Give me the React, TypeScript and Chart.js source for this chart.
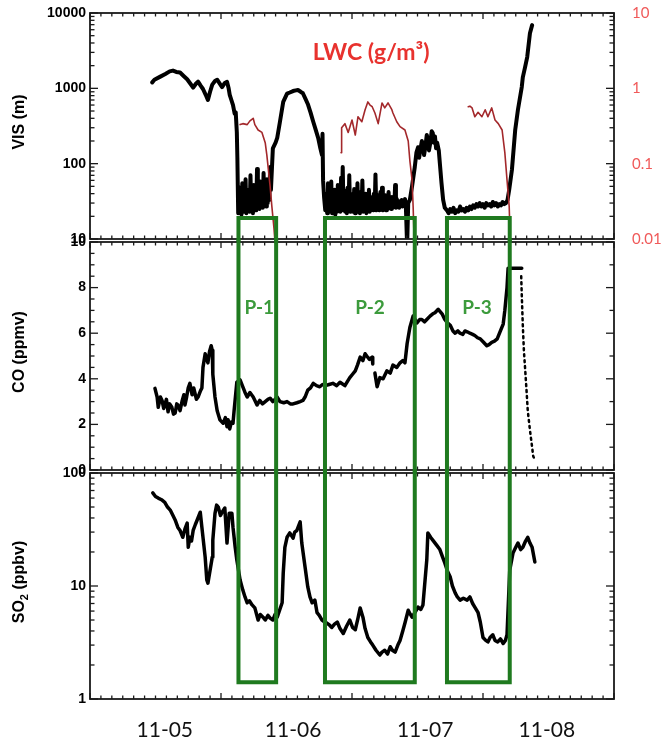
import React, { useEffect, useRef } from 'react';
import { Chart, registerables } from 'chart.js';

Chart.register(...registerables);

// ---------------- data (x = hours since 11-05 00:00) ----------------
const visHours = [
  11.4, 11.8, 12.8, 13.8, 14.6, 15.2, 15.8, 16.5, 17.2, 17.8, 18.4, 18.9, 19.4, 19.8, 20.3, 20.7, 21.2, 21.6, 22.0, 22.4,
  22.9, 23.3, 23.8, 24.2, 24.7, 25.1, 25.4, 25.6, 25.9, 26.2, 26.5, 26.7, 26.9, 27.0,
  27.15, 27.30, 27.45, 27.60, 27.75, 27.90, 28.05, 28.20, 28.35, 28.50, 28.65, 28.80, 28.95, 29.10, 29.25, 29.40, 29.55,
  29.70, 29.85, 30.00, 30.15, 30.30, 30.45, 30.60, 30.75, 30.90, 31.05, 31.20, 31.35, 31.50, 31.65, 31.80, 31.95, 32.10,
  32.25, 32.40, 32.55, 32.70, 32.85, 33.00, 33.15,
  33.5, 34.0, 34.3, 34.8, 35.4, 36.1, 36.6, 37.2, 37.7, 38.1, 38.6, 39.0, 39.5, 39.9, 40.4, 40.9, 41.3, 41.8, 42.2, 42.5,
  42.6, 42.7, 42.9, 43.1,
  43.30, 43.45, 43.60, 43.75, 43.90, 44.05, 44.20, 44.35, 44.50, 44.65, 44.80, 44.95, 45.10, 45.25, 45.40, 45.55, 45.70,
  45.85, 46.00, 46.15, 46.30, 46.45, 46.60, 46.75, 46.90, 47.05, 47.20, 47.35, 47.50, 47.65, 47.80, 47.95, 48.10, 48.25,
  48.40, 48.55, 48.70, 48.85, 49.00, 49.15, 49.30, 49.45, 49.60, 49.75, 49.90, 50.05, 50.20, 50.35, 50.50, 50.65, 50.80,
  50.95, 51.10, 51.25, 51.40, 51.55, 51.70, 51.85, 52.00, 52.15, 52.30, 52.45, 52.60, 52.75, 52.90, 53.05, 53.20, 53.35,
  53.50, 53.65, 53.80, 53.95, 54.10, 54.25, 54.40, 54.55, 54.70, 54.85, 55.00, 55.15, 55.30, 55.45, 55.60, 55.75, 55.90,
  56.05, 56.20, 56.35, 56.50, 56.65, 56.80, 56.95, 57.10, 57.25, 57.40, 57.55, 57.70, 57.85,
  58.1, 58.3, 58.6, 59.0, 59.5, 59.8, 60.1, 60.3, 60.5, 60.8, 61.0, 61.2, 61.4, 61.7, 61.9, 62.1, 62.3, 62.6, 62.8, 63.0,
  63.2, 63.4, 63.6, 63.9, 64.1, 64.4, 64.7, 65.0,
  65.4, 65.7, 66.0, 66.3, 66.6, 66.9, 67.2, 67.5, 67.8, 68.1, 68.4, 68.7, 69.0, 69.3, 69.6, 69.9, 70.2, 70.5, 70.8, 71.1,
  71.4, 71.7, 72.0, 72.3, 72.6, 72.9, 73.2, 73.5, 73.8, 74.1, 74.4, 74.7, 75.0, 75.3, 75.6, 75.9, 76.2,
  76.5, 76.8, 77.3, 77.9, 78.4, 79.1, 79.3, 79.7, 80.1, 80.6, 81.0,
];
const visValues = [
  1200, 1300, 1420, 1550, 1680, 1720, 1650, 1620, 1450, 1320, 1150, 1020, 1150, 1230, 1080, 980, 820, 700, 900, 1120,
  1250, 1300, 1150, 1040, 1180, 1220, 1000, 820, 700, 600, 460, 480, 260, 120,
  22, 48, 24, 40, 21, 55, 23, 38, 25, 62, 22, 45, 24, 36, 23, 70, 25,
  44, 22, 52, 26, 40, 24, 85, 27, 46, 25, 58, 28, 42, 26, 75, 29, 50,
  27, 62, 30, 55, 33, 90, 45,
  160, 190, 220, 360, 660, 850, 880, 920, 940, 950, 900, 860, 720, 620, 480, 360, 290, 220, 160, 130,
  250, 60, 35, 24,
  40, 22, 55, 23, 42, 24, 58, 22, 38, 24, 45, 21, 35, 23, 52, 24, 40,
  23, 65, 25, 90, 24, 44, 23, 36, 22, 48, 24, 70, 23, 40, 25, 34, 23,
  46, 22, 38, 24, 55, 23, 36, 22, 42, 24, 60, 23, 35, 24, 40, 22, 33,
  24, 45, 23, 36, 25, 32, 24, 40, 25, 72, 24, 38, 25, 33, 24, 42, 25,
  48, 24, 34, 26, 38, 24, 31, 25, 42, 26, 33, 25, 36, 26, 31, 27, 52,
  26, 34, 27, 32, 26, 30, 28, 33, 27, 31, 29, 34, 30,
  8, 30, 33, 50, 90, 140, 165, 120, 150, 200, 176, 130, 160, 240, 205, 150, 180, 270, 255, 190,
  230, 160, 190, 150, 100, 55, 33, 26,
  24, 22, 25, 23, 26, 22, 24, 23, 27, 24, 25, 23, 26, 24, 27, 25, 28, 26, 29, 27,
  30, 27, 29, 26, 30, 28, 29, 27, 31, 28, 30, 27, 29, 28, 31, 29, 30,
  33, 45, 83, 280, 520, 1040, 1410, 1900, 2600, 5400, 6900,
];

const lwcHours = [
  27.5, 28.0, 28.8, 29.3, 29.9, 30.2, 30.8, 31.5, 32.1, 32.4, 33.0, 33.3, 33.7, 33.9,
  40.0,
  46.0, 46.1, 46.7, 47.3, 48.0, 48.6, 49.1, 49.8, 50.4, 50.9, 51.3, 51.7, 52.2, 52.8, 53.5, 54.0, 54.6, 55.3, 55.5, 56.2,
  56.8, 57.7, 58.3, 58.6, 59.0, 59.2, 59.4,
  64.0,
  69.3, 69.6, 70.0, 70.5, 71.1, 71.8, 72.4, 72.9, 73.6, 74.2, 74.8, 75.5, 76.0, 76.4, 76.8, 77.0,
];
const lwcValues = [
  0.33, 0.34, 0.33, 0.37, 0.40, 0.33, 0.28, 0.26, 0.19, 0.13, 0.05, 0.028, 0.014, 0.009,
  null,
  0.14, 0.30, 0.34, 0.26, 0.38, 0.24, 0.42, 0.36, 0.52, 0.66, 0.60, 0.57, 0.47, 0.34, 0.64, 0.55, 0.64, 0.52, 0.47, 0.36,
  0.31, 0.28, 0.20, 0.11, 0.061, 0.027, 0.009,
  null,
  0.57, 0.58, 0.55, 0.42, 0.48, 0.42, 0.52, 0.42, 0.55, 0.38, 0.34, 0.28, 0.14, 0.061, 0.027, 0.009,
];

const coHours = [
  11.9, 12.3, 12.5, 12.9, 13.2, 13.5, 13.7, 14.0, 14.3, 14.6, 15.0, 15.3, 15.6, 15.9, 16.1, 16.5, 16.9, 17.2, 17.4, 17.7,
  18.0, 18.3, 18.7, 19.0, 19.2, 19.5, 19.8, 20.2, 20.5, 20.7, 21.1, 21.6, 21.9,
  22.2, 22.4, 22.5, 22.9, 23.3, 23.8, 24.4, 24.8, 25.1, 25.3, 25.6, 25.9, 26.2, 26.4, 26.7, 26.9, 27.5, 28.0, 28.4, 28.8,
  29.3, 29.9, 30.3, 30.6, 31.1, 31.6, 32.1, 32.6, 33.0, 33.5, 34.3, 34.8, 35.5, 36.1, 36.7, 37.2, 37.9, 38.5, 39.0, 39.4,
  39.9, 40.4, 40.9, 41.5, 42.1, 42.6, 43.1, 43.8, 44.5, 45.2, 45.8, 46.7, 47.2, 47.6, 48.1, 48.6, 49.0, 49.5,
  50.0, 50.4, 50.7, 51.2, 51.7, 51.8, 52.0, 52.2, 52.6, 53.1, 53.7, 54.4, 55.0, 55.5, 56.2, 56.8, 57.3, 57.7, 58.1, 58.6,
  59.2, 59.9, 60.4, 60.8, 61.3, 61.7, 62.3, 62.8, 63.2, 63.8, 64.5, 65.0, 65.5, 66.0, 66.5, 66.9, 67.4, 67.8, 68.3, 68.7,
  69.2, 69.6, 70.1, 70.5, 71.0, 71.5, 72.1, 72.7, 73.1, 73.6, 74.1, 74.6, 75.1, 75.7, 76.0, 76.4,
  76.6, 79.1,
];
const coValues = [
  3.58, 3.2, 2.75, 3.2, 3.05, 2.7, 2.85, 3.1, 2.55, 2.9, 2.75, 2.45, 2.5, 2.9, 2.85, 2.6, 3.05, 3.3, 2.85, 3.2,
  3.6, 3.8, 3.3, 3.6, 3.4, 3.1, 3.2, 3.45, 3.6, 4.5, 5.1, 4.7, 5.2,
  5.45, 5.25, 4.2, 3.2, 2.6, 2.2, 2.05, 2.3, 1.9, 2.2, 1.8, 2.1, 2.05, 2.6, 3.35, 3.85, 3.95, 3.65, 3.4, 3.2,
  3.4, 3.2, 3.0, 2.85, 3.05, 2.9, 3.0, 3.1, 3.15, 3.0, 3.2, 3.0, 2.95, 3.0, 2.9, 2.9, 2.95, 3.0, 3.05, 3.2,
  3.5, 3.6, 3.8, 3.7, 3.65, 3.75, 3.7, 3.75, 3.8, 3.7, 3.85, 3.7, 3.9, 4.05, 4.2, 4.35, 4.6, 4.95,
  4.8, 5.1, 5.0, 4.85, 4.95, 4.65, null, 4.25, 3.65, 4.05, 4.0, 4.35, 4.25, 4.6, 4.5, 4.7, 4.8, 4.7, 5.55, 6.25,
  6.75, 6.45, 6.6, 6.6, 6.5, 6.6, 6.75, 6.85, 6.9, 7.05, 6.85, 6.6, 6.45, 6.35, 6.1, 6.0, 6.1, 6.0, 5.95, 6.1,
  6.05, 6.0, 5.95, 5.9, 5.8, 5.75, 5.6, 5.45, 5.5, 5.6, 5.65, 5.75, 6.05, 6.4, 7.0, 8.0,
  8.85, 8.85,
];
const coTailHours = [79.0, 79.1, 79.3, 79.5, 79.7, 80.0, 80.2, 80.6, 81.0, 81.2, 81.5];
const coTailValues = [8.5, 7.7, 6.3, 5.2, 4.5, 3.4, 2.6, 1.75, 1.0, 0.6, 0.45];

const so2Hours = [
  11.5, 12.0, 12.5, 13.1, 13.7, 14.2, 14.7, 15.2, 15.6, 16.1, 16.5, 17.0, 17.4, 17.8, 18.0, 18.3, 18.6, 18.9, 19.3, 19.6,
  20.2, 20.5, 21.1, 21.4, 21.6, 22.0, 22.4, 22.5, 22.9, 23.2, 23.5, 23.9, 24.2, 24.7, 25.1, 25.5, 26.0, 26.2, 26.6, 26.9,
  27.5, 28.0, 28.4, 28.8, 29.2, 29.7, 30.2, 30.8, 31.2, 31.7, 32.1, 32.6, 33.0, 33.5, 33.9, 34.3,
  35.2, 35.4, 35.7, 36.1, 36.6, 37.2, 37.5, 37.9, 38.5, 38.8, 39.4, 39.9, 40.3, 40.7, 41.2, 41.6, 42.0, 42.5, 43.0, 43.4,
  43.9, 44.3, 44.8, 45.3, 45.8, 46.4, 47.0, 47.6, 48.1, 48.6, 49.1, 49.5, 50.0, 50.4, 50.9, 51.4, 51.8, 52.4, 53.1, 53.5,
  54.0, 54.5, 55.0, 55.4, 55.9, 56.4, 56.8, 57.3, 57.7, 58.3, 58.7, 59.0, 59.6, 60.1, 60.6, 61.0, 61.7, 61.9, 62.4, 62.8,
  63.5, 64.1, 64.6, 65.0, 65.5, 66.0, 66.4, 66.9, 67.3, 67.8, 68.4, 69.1, 69.6, 70.1, 70.5, 71.1, 71.5, 72.0, 72.5, 72.9,
  73.3, 73.8, 74.2, 74.7, 75.2, 75.7, 76.1, 76.4, 76.9, 77.5, 78.0, 78.4, 78.9, 79.3, 79.8, 80.2, 80.6, 81.0, 81.5,
];
const so2Values = [
  66.6, 62, 60, 58, 55, 50, 47, 42, 38.4, 33, 31, 27, 32, 36, 22, 27, 25, 31, 35, 38,
  45, 33, 18, 11.3, 10.6, 13.8, 18, 25.5, 44, 52, 50, 42, 45, 49, 24, 44, 44, 33, 22, 17,
  11.3, 9.2, 8.0, 7.1, 7.4, 6.8, 6.4, 5.0, 5.6, 5.3, 5.0, 5.5, 5.2, 5.0, 5.6, 5.3,
  7.1, 13, 22, 27, 29.5, 26.5, 30, 31, 37, 24, 14.7, 9.8, 8.0, 7.1, 7.5, 5.8, 5.5, 5.0, 4.8, 4.7,
  4.5, 4.3, 4.6, 4.8, 4.2, 3.8, 4.4, 5.0, 4.3, 4.1, 5.2, 6.4, 5.3, 4.2, 3.5, 3.2, 3.0, 2.7, 2.45, 2.6,
  2.7, 2.5, 2.9, 2.7, 2.6, 3.0, 3.3, 4.0, 4.7, 6.1, 5.6, 5.3, 5.9, 6.5, 6.2, 6.8, 17, 29.5, 27, 25.5,
  23, 21, 18, 16, 13.5, 12, 10, 8.7, 8.0, 7.5, 7.8, 7.5, 8.0, 7.0, 6.5, 5.8, 4.8, 3.5, 3.3, 3.2,
  3.5, 3.7, 3.3, 3.2, 3.4, 3.1, 3.3, 3.7, 13.8, 19.6, 22, 24, 21, 22, 25, 27, 24, 22, 16.3,
];

// tick labels / annotations
const dateLabels = ['11-05', '11-06', '11-07', '11-08'];
const dateLabelHours = [13.7, 37.2, 61.4, 83.7];
const visTickValues = [10, 100, 1000, 10000];
const visTickLabels = ['10', '100', '1000', '10000'];
const lwcTickValues = [0.01, 0.1, 1, 10];
const lwcTickLabels = ['0.01', '0.1', '1', '10'];
const coTickValues = [0, 2, 4, 6, 8, 10];
const coTickLabels = ['0', '2', '4', '6', '8', '10'];
const so2TickValues = [1, 10, 100];
const so2TickLabels = ['1', '10', '100'];
const periodNames = ['P-1', 'P-2', 'P-3'];
const periodStartHours = [27.2, 43.05, 65.4];
const periodEndHours = [34.1, 59.5, 76.9];
const periodLabelHours = [31.0, 51.3, 70.9];
const periodLabelCo = 7.1;
const periodTopVis = 19;
const periodBottomSo2 = 1.41;

// ---------------- layout / style ----------------
const W = 665;
const H = 742;
const LEFT = 90;
const RIGHT = 51;
const GAP = 3;
const X_MIN = 0;
const X_MAX = 96;
const FRAME = '#1a1a1a';
const GREEN = '#1f7a1f';
const GREEN_TEXT = '#3c9b3c';
const LWC_LINE = '#a3282b';
const LWC_TEXT = '#e8322e';
const LWC_TICK = '#f05a5a';
const TICK_FONT = 'bold 14px "Liberation Sans", Arial, sans-serif';
const TITLE_FONT = 'bold 16px "Liberation Sans", Arial, sans-serif';

const pts = (xs: number[], ys: (number | null)[]) => xs.map((x, i) => ({ x, y: ys[i] }));

function logTicks(min: number, max: number) {
  const out: { v: number; major: boolean }[] = [];
  for (let e = Math.floor(Math.log10(min)); e <= Math.ceil(Math.log10(max)); e++) {
    for (let m = 1; m <= 9; m++) {
      const v = m * Math.pow(10, e);
      if (v >= min * 0.999 && v <= max * 1.001) out.push({ v, major: m === 1 });
    }
  }
  return out;
}
function linTicks(min: number, max: number, minor: number, major: number) {
  const out: { v: number; major: boolean }[] = [];
  for (let v = min; v <= max + 1e-9; v += minor) {
    out.push({ v, major: Math.abs(v / major - Math.round(v / major)) < 1e-6 });
  }
  return out;
}

function seg(ctx: CanvasRenderingContext2D, x1: number, y1: number, x2: number, y2: number) {
  ctx.beginPath();
  ctx.moveTo(x1, y1);
  ctx.lineTo(x2, y2);
  ctx.stroke();
}

function drawFrameAndXTicks(chart: any) {
  const ctx: CanvasRenderingContext2D = chart.ctx;
  const a = chart.chartArea;
  const x = chart.scales.x;
  ctx.strokeStyle = FRAME;
  ctx.lineWidth = 1.8;
  ctx.strokeRect(a.left, a.top, a.right - a.left, a.bottom - a.top);
  ctx.lineWidth = 1.3;
  for (let h = X_MIN; h <= X_MAX; h += 2) {
    const px = x.getPixelForValue(h);
    const len = h % 24 === 0 ? 6 : 3.5;
    seg(ctx, px, a.top, px, a.top + len);
    seg(ctx, px, a.bottom, px, a.bottom - len);
  }
}

function drawYTicks(chart: any, scale: any, ticks: { v: number; major: boolean }[], side: 'left' | 'right') {
  const ctx: CanvasRenderingContext2D = chart.ctx;
  const a = chart.chartArea;
  ctx.strokeStyle = FRAME;
  ctx.lineWidth = 1.3;
  for (const t of ticks) {
    const py = scale.getPixelForValue(t.v);
    const len = t.major ? 8 : 4.5;
    if (side === 'left') seg(ctx, a.left, py, a.left + len, py);
    else seg(ctx, a.right, py, a.right - len, py);
  }
}

function drawLeftLabels(chart: any, scale: any, values: number[], labels: string[]) {
  const ctx: CanvasRenderingContext2D = chart.ctx;
  const a = chart.chartArea;
  ctx.fillStyle = '#000';
  ctx.font = TICK_FONT;
  ctx.textAlign = 'right';
  ctx.textBaseline = 'middle';
  values.forEach((v, i) => ctx.fillText(labels[i], a.left - 4, scale.getPixelForValue(v)));
}

function drawRotatedTitle(chart: any, parts: { text: string; sub?: boolean }[]) {
  const ctx: CanvasRenderingContext2D = chart.ctx;
  const a = chart.chartArea;
  const cy = (a.top + a.bottom) / 2 - 4;
  ctx.save();
  ctx.translate(a.left - 70, cy);
  ctx.rotate(-Math.PI / 2);
  ctx.fillStyle = '#000';
  ctx.textBaseline = 'middle';
  ctx.textAlign = 'left';
  const subFont = 'bold 11px "Liberation Sans", Arial, sans-serif';
  let total = 0;
  for (const p of parts) {
    ctx.font = p.sub ? subFont : TITLE_FONT;
    total += ctx.measureText(p.text).width;
  }
  let x0 = -total / 2;
  for (const p of parts) {
    ctx.font = p.sub ? subFont : TITLE_FONT;
    ctx.fillText(p.text, x0, p.sub ? 5 : 0);
    x0 += ctx.measureText(p.text).width;
  }
  ctx.restore();
}

function greenStyle(ctx: CanvasRenderingContext2D) {
  ctx.strokeStyle = GREEN;
  ctx.lineWidth = 4;
  ctx.lineJoin = 'miter';
  ctx.lineCap = 'butt';
}

const lineDefaults = {
  pointRadius: 0,
  borderJoinStyle: 'round' as const,
  borderCapStyle: 'round' as const,
  tension: 0,
  clip: 0,
};

function baseOptions(top: number, bottom: number, yScales: any) {
  return {
    responsive: false,
    animation: false as const,
    events: [] as any[],
    layout: { padding: { left: LEFT, right: RIGHT, top, bottom } },
    plugins: { legend: { display: false }, tooltip: { enabled: false }, title: { display: false } },
    scales: {
      x: { type: 'linear' as const, min: X_MIN, max: X_MAX, display: false },
      ...yScales,
    },
  };
}

// ---------------- panel plugins ----------------
const visPlugin = {
  id: 'visPanel',
  afterDraw(chart: any) {
    const ctx: CanvasRenderingContext2D = chart.ctx;
    const a = chart.chartArea;
    const x = chart.scales.x;
    const y = chart.scales.y;
    const yr = chart.scales.yLwc;
    ctx.save();
    drawFrameAndXTicks(chart);
    drawYTicks(chart, y, logTicks(10, 10000), 'left');
    drawYTicks(chart, yr, logTicks(0.01, 10), 'right');
    drawLeftLabels(chart, y, visTickValues, visTickLabels);
    ctx.fillStyle = LWC_TICK;
    ctx.font = '15px Lato, "Open Sans", sans-serif';
    ctx.textAlign = 'left';
    ctx.textBaseline = 'middle';
    lwcTickValues.forEach((v, i) => ctx.fillText(lwcTickLabels[i], a.right + 18, yr.getPixelForValue(v)));
    drawRotatedTitle(chart, [{ text: 'VIS (m)' }]);
    ctx.fillStyle = LWC_TEXT;
    ctx.font = 'bold 23px Lato, "Open Sans", sans-serif';
    ctx.textAlign = 'center';
    ctx.textBaseline = 'middle';
    ctx.fillText('LWC (g/m³)', x.getPixelForValue(51.5), y.getPixelForValue(3000));
    greenStyle(ctx);
    const top = y.getPixelForValue(periodTopVis);
    periodStartHours.forEach((s, i) => {
      const xl = x.getPixelForValue(s);
      const xr = x.getPixelForValue(periodEndHours[i]);
      ctx.beginPath();
      ctx.moveTo(xl, a.bottom + GAP);
      ctx.lineTo(xl, top);
      ctx.lineTo(xr, top);
      ctx.lineTo(xr, a.bottom + GAP);
      ctx.stroke();
    });
    ctx.restore();
  },
};

const coPlugin = {
  id: 'coPanel',
  afterDraw(chart: any) {
    const ctx: CanvasRenderingContext2D = chart.ctx;
    const a = chart.chartArea;
    const x = chart.scales.x;
    const y = chart.scales.y;
    ctx.save();
    drawFrameAndXTicks(chart);
    drawYTicks(chart, y, linTicks(0, 10, 0.5, 2), 'left');
    drawYTicks(chart, y, linTicks(0, 10, 1, 2), 'right');
    drawLeftLabels(chart, y, coTickValues, coTickLabels);
    drawRotatedTitle(chart, [{ text: 'CO (ppmv)' }]);
    greenStyle(ctx);
    periodStartHours.forEach((s, i) => {
      const xl = x.getPixelForValue(s);
      const xr = x.getPixelForValue(periodEndHours[i]);
      seg(ctx, xl, a.top - GAP, xl, a.bottom + GAP);
      seg(ctx, xr, a.top - GAP, xr, a.bottom + GAP);
    });
    ctx.fillStyle = GREEN_TEXT;
    ctx.font = 'bold 19px Lato, "Open Sans", sans-serif';
    ctx.textAlign = 'center';
    ctx.textBaseline = 'middle';
    periodNames.forEach((n, i) => ctx.fillText(n, x.getPixelForValue(periodLabelHours[i]), y.getPixelForValue(periodLabelCo)));
    ctx.restore();
  },
};

const so2Plugin = {
  id: 'so2Panel',
  afterDraw(chart: any) {
    const ctx: CanvasRenderingContext2D = chart.ctx;
    const a = chart.chartArea;
    const x = chart.scales.x;
    const y = chart.scales.y;
    ctx.save();
    drawFrameAndXTicks(chart);
    drawYTicks(chart, y, logTicks(1, 100), 'left');
    drawYTicks(chart, y, logTicks(1, 100), 'right');
    drawLeftLabels(chart, y, so2TickValues, so2TickLabels);
    drawRotatedTitle(chart, [{ text: 'SO' }, { text: '2', sub: true }, { text: ' (ppbv)' }]);
    ctx.fillStyle = '#111';
    ctx.font = '21px Lato, "Open Sans", sans-serif';
    ctx.textAlign = 'center';
    ctx.textBaseline = 'middle';
    dateLabels.forEach((l, i) => ctx.fillText(l, x.getPixelForValue(dateLabelHours[i]), a.bottom + 31));
    greenStyle(ctx);
    const bot = y.getPixelForValue(periodBottomSo2);
    periodStartHours.forEach((s, i) => {
      const xl = x.getPixelForValue(s);
      const xr = x.getPixelForValue(periodEndHours[i]);
      ctx.beginPath();
      ctx.moveTo(xl, a.top - GAP);
      ctx.lineTo(xl, bot);
      ctx.lineTo(xr, bot);
      ctx.lineTo(xr, a.top - GAP);
      ctx.stroke();
    });
    ctx.restore();
  },
};

export default function App() {
  const c1 = useRef<HTMLCanvasElement>(null);
  const c2 = useRef<HTMLCanvasElement>(null);
  const c3 = useRef<HTMLCanvasElement>(null);

  useEffect(() => {
    const visChart = new Chart(c1.current as HTMLCanvasElement, {
      type: 'line',
      data: {
        datasets: [
          { label: 'LWC', data: pts(lwcHours, lwcValues) as any, yAxisID: 'yLwc', borderColor: LWC_LINE, borderWidth: 1.6, order: 0, spanGaps: false, ...lineDefaults },
          { label: 'VIS', data: pts(visHours, visValues) as any, yAxisID: 'y', borderColor: '#000', borderWidth: 4, order: 1, ...lineDefaults },
        ],
      },
      options: baseOptions(13, H - 239, {
        y: { type: 'logarithmic', min: 10, max: 10000, display: false },
        yLwc: { type: 'logarithmic', position: 'right', min: 0.01, max: 10, display: false },
      }) as any,
      plugins: [visPlugin],
    });
    const coChart = new Chart(c2.current as HTMLCanvasElement, {
      type: 'line',
      data: {
        datasets: [
          { label: 'CO', data: pts(coHours, coValues) as any, borderColor: '#000', borderWidth: 3.5, spanGaps: false, ...lineDefaults },
          { label: 'CO tail', data: pts(coTailHours, coTailValues) as any, borderColor: '#000', borderWidth: 2.5, borderDash: [2, 4], ...lineDefaults },
        ],
      },
      options: baseOptions(242, H - 470, {
        y: { type: 'linear', min: 0, max: 10, display: false },
      }) as any,
      plugins: [coPlugin],
    });
    const so2Chart = new Chart(c3.current as HTMLCanvasElement, {
      type: 'line',
      data: {
        datasets: [
          { label: 'SO2', data: pts(so2Hours, so2Values) as any, borderColor: '#000', borderWidth: 3.5, ...lineDefaults },
        ],
      },
      options: baseOptions(473, H - 699, {
        y: { type: 'logarithmic', min: 1, max: 100, display: false },
      }) as any,
      plugins: [so2Plugin],
    });
    return () => {
      visChart.destroy();
      coChart.destroy();
      so2Chart.destroy();
    };
  }, []);

  const cs: React.CSSProperties = { position: 'absolute', left: 0, top: 0, width: W, height: H };
  return (
    <div style={{ position: 'absolute', left: 0, top: 0, width: W, height: H, background: '#fff', overflow: 'hidden' }}>
      <canvas ref={c1} width={W} height={H} style={cs} />
      <canvas ref={c2} width={W} height={H} style={cs} />
      <canvas ref={c3} width={W} height={H} style={cs} />
    </div>
  );
}
